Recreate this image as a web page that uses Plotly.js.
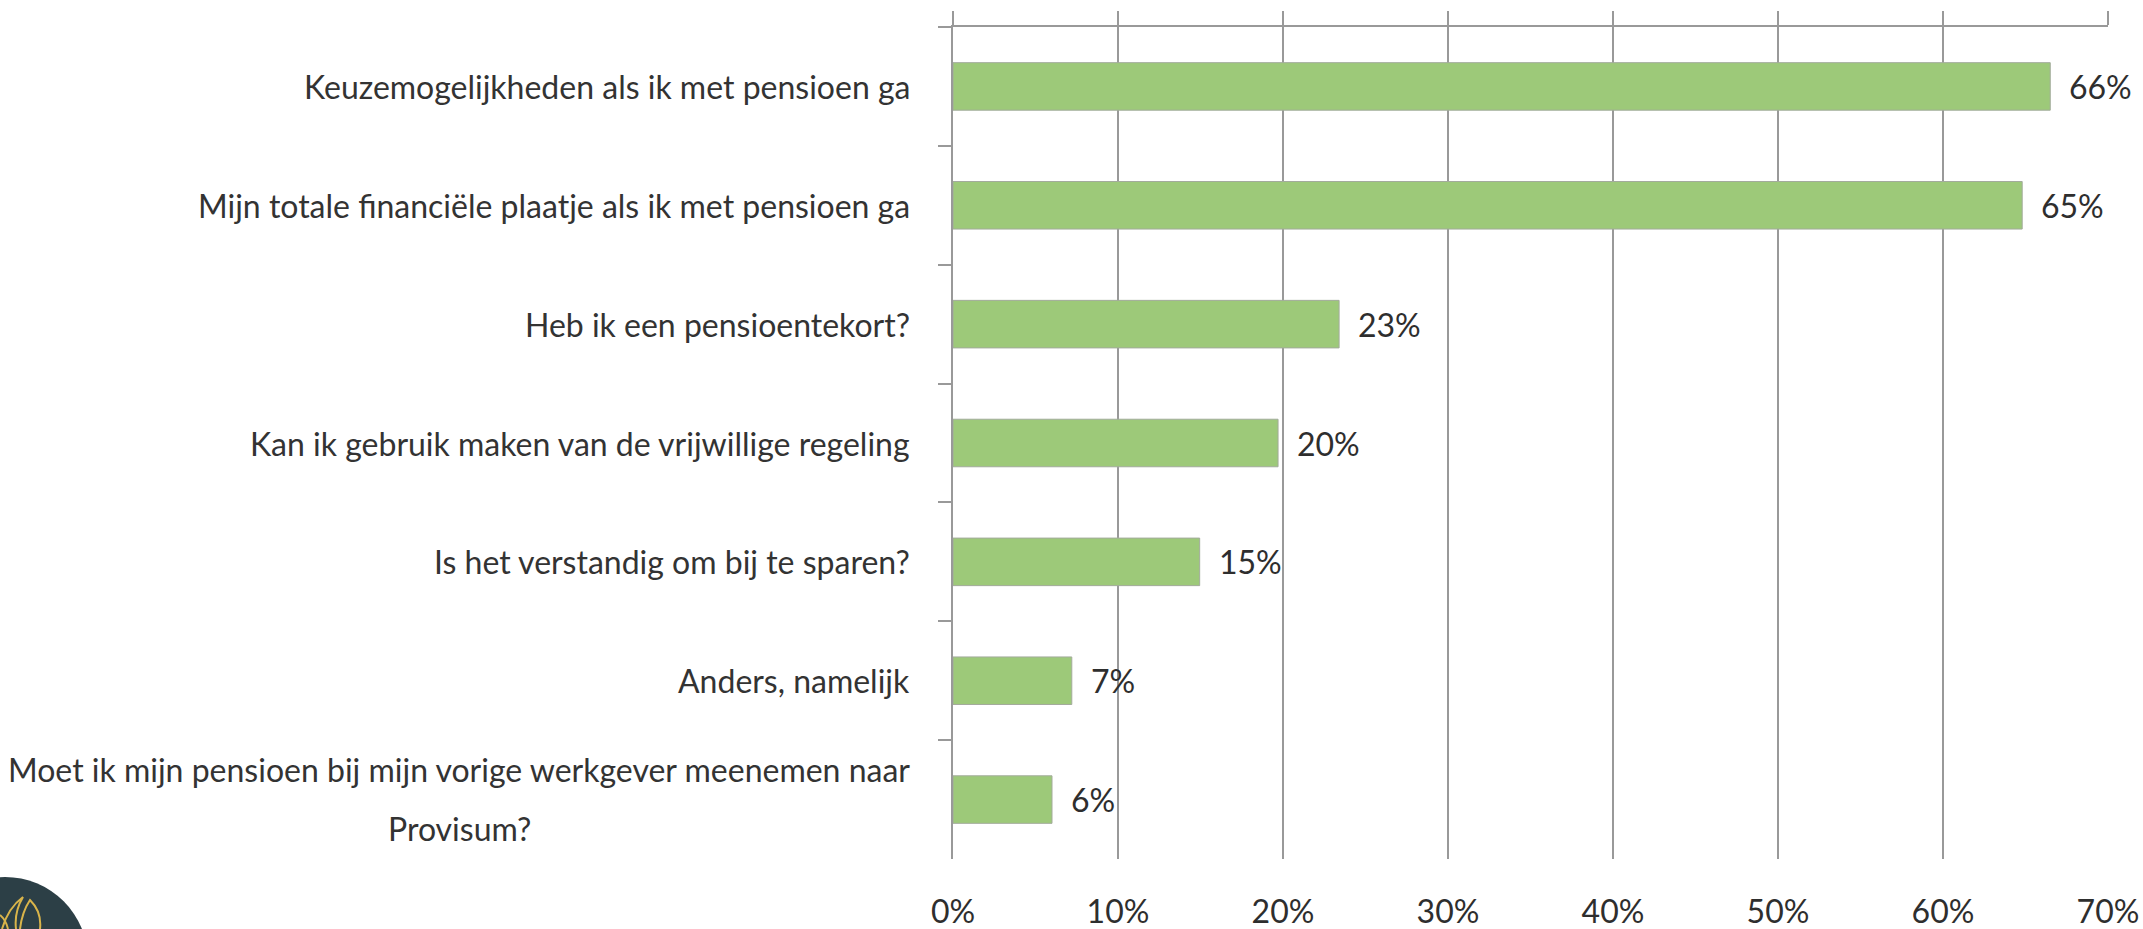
<!DOCTYPE html>
<html>
<head>
<meta charset="utf-8">
<script src="https://cdn.plot.ly/plotly-3.0.1.min.js"></script>
<style>html,body{margin:0;padding:0;background:#fff;}#chart{width:2143px;height:929px;}</style>
</head>
<body>
<div id="chart"></div>
<script>
const categories = [
  'Keuzemogelijkheden als ik met pensioen ga',
  'Mijn totale financiële plaatje als ik met pensioen ga',
  'Heb ik een pensioentekort?',
  'Kan ik gebruik maken van de vrijwillige regeling',
  'Is het verstandig om bij te sparen?',
  'Anders, namelijk',
  'Moet ik mijn pensioen bij mijn vorige werkgever meenemen naar<br>Provisum?'
];
const values = [66.5, 64.8, 23.4, 19.7, 14.95, 7.2, 6.0];
const valueLabels = ['66%', '65%', '23%', '20%', '15%', '7%', '6%'];
const xTickVals = [0, 10, 20, 30, 40, 50, 60, 70];
const xTickText = ['0%', '10%', '20%', '30%', '40%', '50%', '60%', '70%'];

const FONT = 'Lato, "Open Sans", sans-serif';
const GRID = '#999999';
const W = 2143, H = 929;
const M = {l: 953, r: 35, t: 27, b: 70};
const PW = W - M.l - M.r, PH = H - M.t - M.b;
const X = px => (px - M.l) / PW;
const Y = py => (H - M.b - py) / PH;

const catFont = {family: FONT, size: 32, color: '#333333'};
const annotations = [];
const splitLabel = [];
categories.forEach((c, i) => {
  const lines = c.split('<br>');
  if (lines.length === 1) {
    annotations.push({xref: 'paper', yref: 'y', x: 0, y: c, xanchor: 'right', yanchor: 'middle',
      xshift: -41, text: lines[0], showarrow: false, font: catFont});
  } else {
    const i1 = annotations.length;
    annotations.push({xref: 'paper', yref: 'y', x: 0, y: c, xanchor: 'right', yanchor: 'middle',
      xshift: -41, yshift: 30, text: lines[0], showarrow: false, font: catFont});
    annotations.push({xref: 'paper', yref: 'y', x: X(464), y: c, xanchor: 'center', yanchor: 'middle',
      yshift: -29, text: lines[1], showarrow: false, font: catFont});
    splitLabel.push([i1, i1 + 1]);
  }
});
values.forEach((v, i) => {
  annotations.push({xref: 'x', yref: 'y', x: v, y: categories[i], xanchor: 'left', yanchor: 'middle',
    xshift: 17, text: valueLabels[i], showarrow: false, font: {family: FONT, size: 32, color: '#2e2e2e'}});
});

const gold = '#d9b44a';
const shapes = [
  {type: 'circle', xref: 'paper', yref: 'paper', x0: X(5 - 83), x1: X(5 + 83), y0: Y(960 + 83), y1: Y(960 - 83),
   fillcolor: '#2c3f46', line: {width: 0}},
  {type: 'path', xref: 'paper', yref: 'paper',
   path: `M ${X(2)} ${Y(929)} Q ${X(8)} ${Y(908)} ${X(23)} ${Y(897)} Q ${X(14)} ${Y(912)} ${X(16)} ${Y(929)}`,
   line: {color: gold, width: 2}},
  {type: 'path', xref: 'paper', yref: 'paper',
   path: `M ${X(20)} ${Y(929)} Q ${X(22)} ${Y(912)} ${X(30)} ${Y(900)} Q ${X(42)} ${Y(912)} ${X(40)} ${Y(929)}`,
   line: {color: gold, width: 2}},
  {type: 'path', xref: 'paper', yref: 'paper',
   path: `M ${X(0)} ${Y(915)} Q ${X(6)} ${Y(920)} ${X(8)} ${Y(929)}`,
   line: {color: gold, width: 2}}
];

const data = [
  {type: 'bar', orientation: 'h', x: values, y: categories,
   marker: {color: '#9dc979', line: {color: '#a3ab9c', width: 1}},
   hoverinfo: 'skip'},
  {type: 'scatter', mode: 'none', x: values, y: categories, xaxis: 'x2', yaxis: 'y', hoverinfo: 'skip', showlegend: false}
];

const layout = {
  width: W, height: H,
  margin: {l: M.l, r: M.r, t: M.t, b: M.b, pad: 0},
  paper_bgcolor: '#ffffff', plot_bgcolor: '#ffffff',
  showlegend: false,
  bargap: 0.6,
  font: {family: FONT, color: '#333333'},
  xaxis: {range: [0, 70], tickmode: 'array', tickvals: xTickVals, ticktext: xTickText,
    showgrid: true, gridcolor: GRID, gridwidth: 2, zeroline: false, showline: false, ticks: '',
    tickfont: {family: FONT, size: 32, color: '#2e2e2e'}, ticklabelstandoff: 31, fixedrange: true},
  xaxis2: {overlaying: 'x', side: 'top', anchor: 'y', range: [0, 70], tickmode: 'array', tickvals: xTickVals,
    ticks: 'outside', ticklen: 14, tickcolor: GRID, tickwidth: 2, showline: true, linecolor: GRID, linewidth: 2,
    showticklabels: false, showgrid: false, zeroline: false, fixedrange: true},
  yaxis: {type: 'category', range: [6.5, -0.5], showline: true, linecolor: GRID, linewidth: 2,
    ticks: 'outside', ticklen: 13, tickcolor: GRID, tickwidth: 2, tickson: 'boundaries',
    showticklabels: false, showgrid: false, zeroline: false, fixedrange: true},
  annotations: annotations,
  shapes: shapes
};

Plotly.newPlot('chart', data, layout, {displayModeBar: false, staticPlot: true}).then(gd => {
  const nodes = gd.querySelectorAll('.annotation');
  const upd = {};
  splitLabel.forEach(([a, b]) => {
    const n = Array.from(nodes).find(el => el.getAttribute('data-index') === String(a));
    if (!n) return;
    const t = n.querySelector('text');
    const r = t.getBoundingClientRect();
    const gr = gd.getBoundingClientRect();
    const cx = (r.left + r.right) / 2 - gr.left;
    upd['annotations[' + b + '].x'] = (cx - gd._fullLayout._size.l) / gd._fullLayout._size.w;
  });
  if (Object.keys(upd).length) Plotly.relayout(gd, upd);
});
</script>
</body>
</html>
